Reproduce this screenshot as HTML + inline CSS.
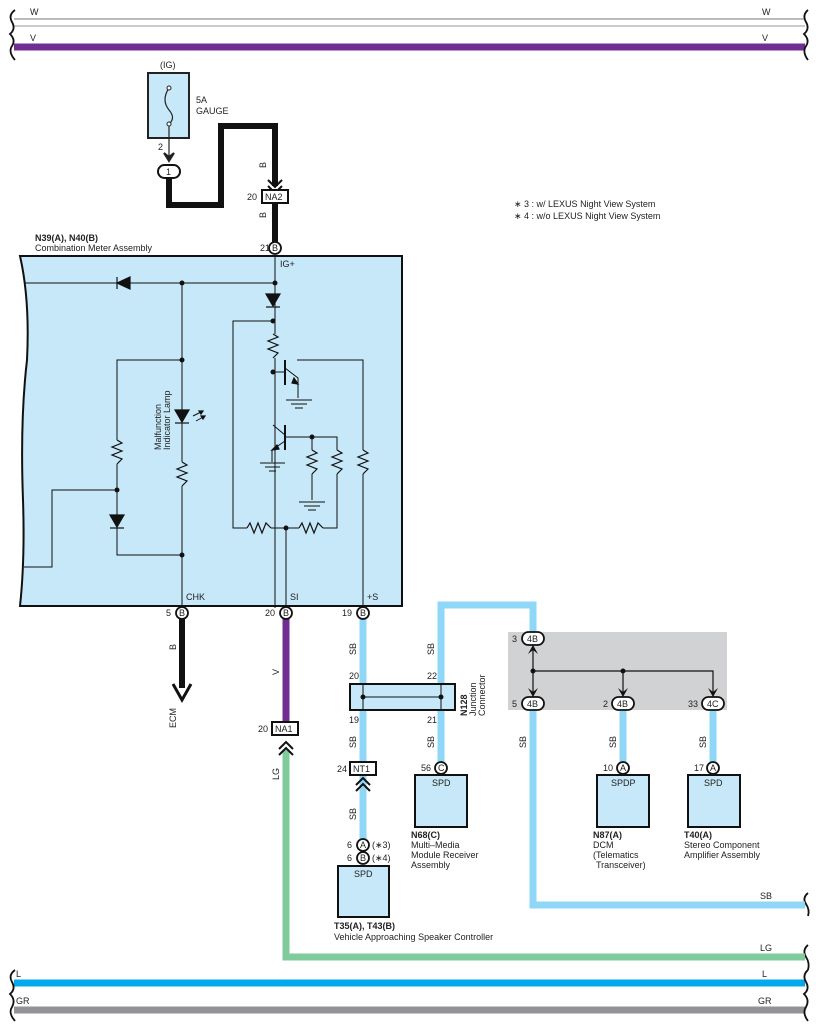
<!DOCTYPE html>
<html><head><meta charset="utf-8"><style>
body{margin:0;background:#fff}
svg{display:block}
text{font-family:"Liberation Sans",sans-serif;font-size:9px;fill:#222}
.b{font-weight:bold}
</style></head><body>
<svg width="817" height="1031" viewBox="0 0 817 1031" xmlns="http://www.w3.org/2000/svg">
<g fill="none" stroke-linecap="butt">
<!-- top wires -->
<line x1="14" y1="19" x2="805" y2="19" stroke="#777" stroke-width="1"/>
<line x1="14" y1="26" x2="805" y2="26" stroke="#bbb" stroke-width="1.5"/>
<line x1="14" y1="47" x2="805" y2="47" stroke="#712d91" stroke-width="7"/>
<!-- bottom wires -->
<line x1="14" y1="983" x2="805" y2="983" stroke="#00aaeb" stroke-width="7"/>
<line x1="14" y1="1010" x2="805" y2="1010" stroke="#929396" stroke-width="7"/>
<!-- braces -->
<g stroke="#111" stroke-width="1.8">
<path d="M15 10 Q8 15 12 22 Q16 29 10 34 Q16 40 12 46 Q8 52 15 60"/>
<path d="M808 10 Q802 15 806 22 Q810 29 804 34 Q810 40 806 46 Q802 52 808 60"/>
<path d="M15 970 Q8 975 12 982 Q16 989 10 994 Q16 1000 12 1007 Q8 1013 15 1021"/>
<path d="M808 970 Q802 975 806 982 Q810 989 804 994 Q810 1000 806 1007 Q802 1013 808 1021"/>
<path d="M808 893 Q802 898 806 904 Q810 910 808 916"/>
<path d="M808 945 Q802 950 806 957 Q810 963 808 970"/>
</g>
</g>
<text x="30" y="15">W</text><text x="762" y="15">W</text>
<text x="30" y="41">V</text><text x="762" y="41">V</text>
<text x="16" y="977">L</text><text x="762" y="977">L</text>
<text x="16" y="1004">GR</text><text x="758" y="1004">GR</text>

<!-- fuse -->
<text x="160" y="68">(IG)</text>
<rect x="148" y="73" width="41" height="65" fill="#c6e8f8" stroke="#222" stroke-width="2"/>
<path d="M169 88 Q161 100 169 110 Q176 118 169 124" fill="none" stroke="#222" stroke-width="1.2"/>
<circle cx="169" cy="88" r="2" fill="#fff" stroke="#222"/><circle cx="169" cy="124" r="2" fill="#fff" stroke="#222"/>
<text x="196" y="103">5A</text><text x="196" y="114">GAUGE</text>
<line x1="169" y1="126" x2="169" y2="160" stroke="#222" stroke-width="1.2"/>
<path d="M164 153 L169 161 L174 153 L169 157Z" fill="#222" stroke="#222" stroke-width="2"/>
<text x="158" y="150">2</text>
<path d="M169 178 V205 H221 V126 H275 V186" fill="none" stroke="#111" stroke-width="6"/>
<rect x="158" y="165" width="22" height="13" rx="6.5" fill="#fff" stroke="#111" stroke-width="2"/>
<text x="166" y="175">1</text>
<path d="M268 180 L275 187 L282 180 M268 186 L275 193 L282 186" fill="none" stroke="#111" stroke-width="2"/>
<text transform="translate(266 168) rotate(-90)">B</text>
<text transform="translate(266 218) rotate(-90)">B</text>
<rect x="262" y="190" width="26" height="13" fill="#fff" stroke="#111" stroke-width="2"/>
<text x="265" y="200">NA2</text><text x="247" y="200">20</text>
<line x1="275" y1="203" x2="275" y2="243" stroke="#111" stroke-width="6"/>

<!-- meter -->
<text x="35" y="241" class="b">N39(A), N40(B)</text>
<text x="35" y="251">Combination Meter Assembly</text>
<path d="M20 256 H402 V606 H20 Q25 560 23 500 Q20 420 27 360 Q30 300 20 256Z" fill="#c6e8f8" stroke="#111" stroke-width="2"/>
<g fill="none" stroke="#111" stroke-width="1">
<line x1="275" y1="256" x2="275" y2="608"/>
<line x1="24" y1="283" x2="275" y2="283"/>
<line x1="182" y1="283" x2="182" y2="608"/>
<path d="M182 360 H117 V555 H182"/>
<path d="M24 567 H52 V490 H117"/>
<path d="M273 321 H233 V528 H337 V437 H286"/>
<path d="M297 360 H363 V608"/>
<path d="M286 528 V608"/>
<path d="M312 437 V500"/>
<path d="M285 360 V385 M285 425 V450"/>
<path d="M273 372 H285 M273 425 L285 435 M285 441 L272 450 V462"/>
<path d="M285 368 L298 378 V398"/>
<line x1="286" y1="400" x2="312" y2="400"/><line x1="291" y1="404" x2="307" y2="404"/><line x1="295" y1="408" x2="303" y2="408"/>
<line x1="260" y1="463" x2="285" y2="463"/><line x1="265" y1="467" x2="280" y2="467"/><line x1="269" y1="471" x2="276" y2="471"/>
<line x1="299" y1="502" x2="325" y2="502"/><line x1="304" y1="506" x2="320" y2="506"/><line x1="308" y1="510" x2="316" y2="510"/>
</g>
<!-- resistors (white gaps) -->
<g fill="none" stroke="#111" stroke-width="1.2">
<rect x="268" y="334" width="10" height="24" fill="#c6e8f8" stroke="none"/>
<path d="M273 334 L278 337 L268 341 L278 345 L268 349 L278 353 L273 358"/>
<rect x="112" y="440" width="10" height="24" fill="#c6e8f8" stroke="none"/>
<path d="M117 440 L122 443 L112 447 L122 451 L112 455 L122 459 L117 464"/>
<rect x="177" y="462" width="10" height="24" fill="#c6e8f8" stroke="none"/>
<path d="M182 462 L187 465 L177 469 L187 473 L177 477 L187 481 L182 486"/>
<rect x="307" y="450" width="10" height="24" fill="#c6e8f8" stroke="none"/>
<path d="M312 450 L317 453 L307 457 L317 461 L307 465 L317 469 L312 474"/>
<rect x="332" y="450" width="10" height="24" fill="#c6e8f8" stroke="none"/>
<path d="M337 450 L342 453 L332 457 L342 461 L332 465 L342 469 L337 474"/>
<rect x="358" y="450" width="10" height="24" fill="#c6e8f8" stroke="none"/>
<path d="M363 450 L368 453 L358 457 L368 461 L358 465 L368 469 L363 474"/>
<rect x="247" y="523" width="24" height="10" fill="#c6e8f8" stroke="none"/>
<path d="M247 528 L250 523 L254 533 L258 523 L262 533 L266 523 L271 528"/>
<rect x="299" y="523" width="24" height="10" fill="#c6e8f8" stroke="none"/>
<path d="M299 528 L302 523 L306 533 L310 523 L314 533 L318 523 L323 528"/>
</g>
<!-- diodes -->
<g fill="#111" stroke="#111" stroke-width="1.2">
<path d="M117 283 L130 277 V289Z"/><line x1="117" y1="277" x2="117" y2="289"/>
<path d="M266 294 H280 L273 306Z"/><line x1="266" y1="307" x2="280" y2="307"/>
<path d="M110 515 H124 L117 527Z"/><line x1="110" y1="528" x2="124" y2="528"/>
<path d="M175 410 H189 L182 422Z"/><line x1="175" y1="423" x2="189" y2="423"/>
<path d="M193 416 L203 411 M196 421 L205 416" fill="none" stroke-width="1"/>
<path d="M203 411 L199 411 L201 414Z M205 416 L201 416 L203 419Z"/>
<line x1="285" y1="360" x2="285" y2="385" stroke-width="2"/>
<line x1="285" y1="425" x2="285" y2="450" stroke-width="2"/>
<path d="M298 384 L294 378 L292 383Z"/><path d="M272 450 L277 445 L279 449Z"/>
</g>
<g fill="#111">
<circle cx="182" cy="283" r="2.5"/><circle cx="275" cy="283" r="2.5"/><circle cx="182" cy="360" r="2.5"/>
<circle cx="117" cy="490" r="2.5"/><circle cx="182" cy="555" r="2.5"/><circle cx="273" cy="321" r="2.5"/>
<circle cx="273" cy="372" r="2.5"/><circle cx="312" cy="437" r="2.5"/><circle cx="286" cy="528" r="2.5"/>
</g>
<text transform="translate(161 450) rotate(-90)">Malfunction</text>
<text transform="translate(170 450) rotate(-90)">Indicator Lamp</text>
<text x="280" y="267">IG+</text>
<text x="186" y="600">CHK</text><text x="290" y="600">SI</text><text x="367" y="600">+S</text>

<!-- wires below meter -->
<line x1="182" y1="618" x2="182" y2="688" stroke="#111" stroke-width="6"/>
<path d="M173 684 L182 700 L191 684" fill="none" stroke="#111" stroke-width="3"/>
<text transform="translate(176 650) rotate(-90)">B</text>
<text transform="translate(176 728) rotate(-90)">ECM</text>
<line x1="286" y1="618" x2="286" y2="722" stroke="#712d91" stroke-width="7"/>
<text transform="translate(279 675) rotate(-90)">V</text>
<path d="M286 750 V957 H805" fill="none" stroke="#7fcb9b" stroke-width="7"/>
<text transform="translate(279 780) rotate(-90)">LG</text>
<text x="760" y="951">LG</text>
<path d="M279 749 L286 742 L293 749 M279 755 L286 748 L293 755" fill="none" stroke="#111" stroke-width="2"/>
<rect x="272" y="722" width="26" height="13" fill="#fff" stroke="#111" stroke-width="2"/>
<text x="275" y="732">NA1</text><text x="258" y="732">20</text>

<!-- SB wires -->
<g fill="none" stroke="#8fd7f6" stroke-width="7">
<line x1="363" y1="618" x2="363" y2="840"/>
<path d="M441 771 V605 H533 V905 H805"/>
<line x1="623" y1="708" x2="623" y2="763"/>
<line x1="713" y1="708" x2="713" y2="763"/>
</g>
<text transform="translate(356 655) rotate(-90)">SB</text>
<text transform="translate(356 748) rotate(-90)">SB</text>
<text transform="translate(356 820) rotate(-90)">SB</text>
<text transform="translate(434 655) rotate(-90)">SB</text>
<text transform="translate(434 748) rotate(-90)">SB</text>
<text transform="translate(526 748) rotate(-90)">SB</text>
<text transform="translate(616 748) rotate(-90)">SB</text>
<text transform="translate(706 748) rotate(-90)">SB</text>
<text x="760" y="899">SB</text>

<!-- junction N128 -->
<text x="349" y="679">20</text><text x="427" y="679">22</text>
<text x="349" y="723">19</text><text x="427" y="723">21</text>
<rect x="350" y="684" width="105" height="26" fill="#c6e8f8" stroke="#111" stroke-width="2"/>
<line x1="363" y1="684" x2="363" y2="710" stroke="#111"/><line x1="441" y1="684" x2="441" y2="710" stroke="#111"/>
<line x1="363" y1="697" x2="441" y2="697" stroke="#111"/>
<circle cx="363" cy="697" r="2.5" fill="#111"/><circle cx="441" cy="697" r="2.5" fill="#111"/>
<text class="b" transform="translate(467 716) rotate(-90)">N128</text>
<text transform="translate(476 716) rotate(-90)">Junction</text>
<text transform="translate(485 716) rotate(-90)">Connector</text>

<!-- NT1 -->
<rect x="350" y="762" width="26" height="13" fill="#fff" stroke="#111" stroke-width="2"/>
<text x="353" y="772">NT1</text><text x="337" y="772">24</text>
<path d="M356 785 L363 778 L370 785 M356 791 L363 784 L370 791" fill="none" stroke="#111" stroke-width="2"/>

<!-- T35 -->
<circle cx="363" cy="845" r="6" fill="#fff" stroke="#111" stroke-width="1.8"/><text x="360" y="848">A</text>
<circle cx="363" cy="858" r="6" fill="#fff" stroke="#111" stroke-width="1.8"/><text x="360" y="861">B</text>
<text x="347" y="848">6</text><text x="347" y="861">6</text>
<text x="372" y="848">(∗3)</text><text x="372" y="861">(∗4)</text>
<rect x="338" y="866" width="51" height="51" fill="#c6e8f8" stroke="#111" stroke-width="2"/>
<text x="354" y="877">SPD</text>
<text x="334" y="929" class="b">T35(A), T43(B)</text>
<text x="334" y="940">Vehicle Approaching Speaker Controller</text>

<!-- N68 -->
<circle cx="441" cy="768" r="6" fill="#fff" stroke="#111" stroke-width="1.8"/><text x="438" y="771">C</text>
<text x="421" y="771">56</text>
<rect x="415" y="775" width="52" height="52" fill="#c6e8f8" stroke="#111" stroke-width="2"/>
<text x="432" y="786">SPD</text>
<text x="411" y="838" class="b">N68(C)</text>
<text x="411" y="848">Multi–Media</text><text x="411" y="858">Module Receiver</text><text x="411" y="868">Assembly</text>

<!-- gray box -->
<rect x="508" y="632" width="219" height="78" fill="#d1d2d4"/>
<g fill="none" stroke="#111" stroke-width="1.2">
<line x1="533" y1="645" x2="533" y2="697"/>
<path d="M533 671 H713 V697 M623 671 V697"/>
</g>
<g fill="#111">
<path d="M528 654 L533 645 L538 654 L533 650Z"/>
<path d="M528 688 L533 697 L538 688 L533 692Z"/>
<path d="M618 688 L623 697 L628 688 L623 692Z"/>
<path d="M708 688 L713 697 L718 688 L713 692Z"/>
<circle cx="533" cy="671" r="2.5"/><circle cx="623" cy="671" r="2.5"/>
</g>
<g fill="#fff" stroke="#111" stroke-width="1.8">
<rect x="522" y="632" width="22" height="13" rx="6.5"/>
<rect x="522" y="697" width="22" height="13" rx="6.5"/>
<rect x="612" y="697" width="22" height="13" rx="6.5"/>
<rect x="702" y="697" width="22" height="13" rx="6.5"/>
</g>
<text x="527" y="642">4B</text><text x="512" y="642">3</text>
<text x="527" y="707">4B</text><text x="512" y="707">5</text>
<text x="617" y="707">4B</text><text x="603" y="707">2</text>
<text x="707" y="707">4C</text><text x="688" y="707">33</text>

<!-- N87 -->
<circle cx="623" cy="768" r="6" fill="#fff" stroke="#111" stroke-width="1.8"/><text x="620" y="771">A</text>
<text x="603" y="771">10</text>
<rect x="597" y="775" width="52" height="52" fill="#c6e8f8" stroke="#111" stroke-width="2"/>
<text x="611" y="786">SPDP</text>
<text x="593" y="838" class="b">N87(A)</text>
<text x="593" y="848">DCM</text><text x="593" y="858">(Telematics</text><text x="596" y="868">Transceiver)</text>

<!-- T40 -->
<circle cx="713" cy="768" r="6" fill="#fff" stroke="#111" stroke-width="1.8"/><text x="710" y="771">A</text>
<text x="694" y="771">17</text>
<rect x="688" y="775" width="52" height="52" fill="#c6e8f8" stroke="#111" stroke-width="2"/>
<text x="704" y="786">SPD</text>
<text x="684" y="838" class="b">T40(A)</text>
<text x="684" y="848">Stereo Component</text><text x="684" y="858">Amplifier Assembly</text>

<!-- pins under meter -->
<g fill="#fff" stroke="#111" stroke-width="1.8">
<circle cx="275" cy="248" r="6"/><circle cx="182" cy="613" r="6"/><circle cx="286" cy="613" r="6"/><circle cx="363" cy="613" r="6"/>
</g>
<text x="272" y="251">B</text><text x="260" y="251">21</text>
<text x="179" y="616">B</text><text x="166" y="616">5</text>
<text x="283" y="616">B</text><text x="265" y="616">20</text>
<text x="360" y="616">B</text><text x="342" y="616">19</text>

<text x="514" y="207">∗ 3 : w/ LEXUS Night View System</text>
<text x="514" y="219">∗ 4 : w/o LEXUS Night View System</text>
</svg>
</body></html>
